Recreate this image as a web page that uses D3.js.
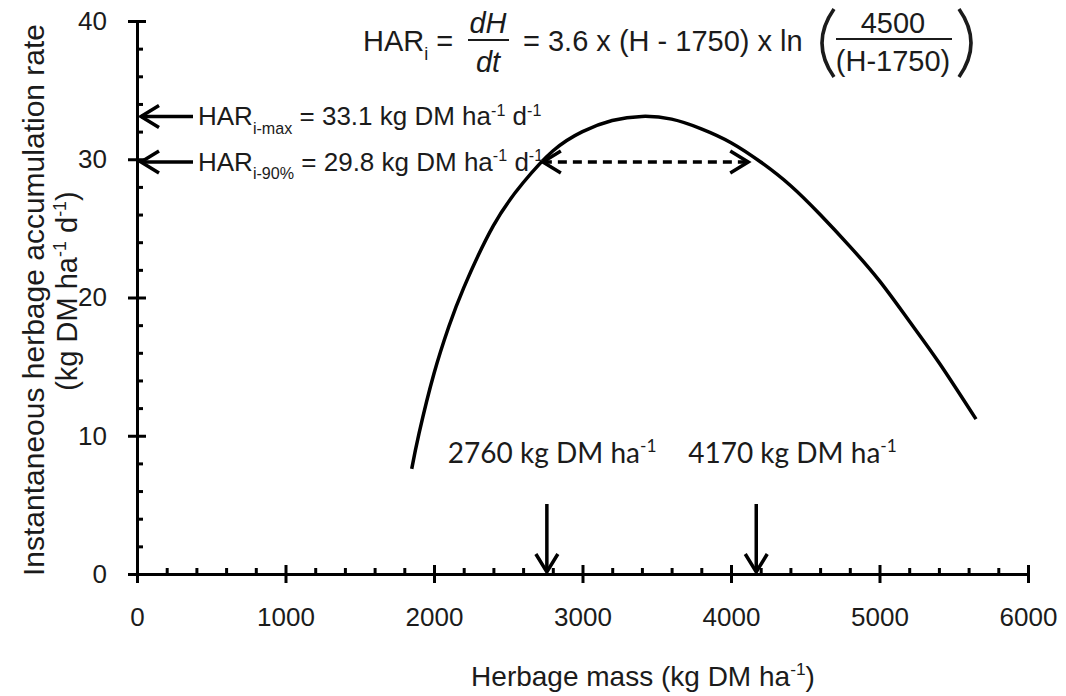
<!DOCTYPE html>
<html>
<head>
<meta charset="utf-8">
<script src="https://cdn.jsdelivr.net/npm/d3@7"></script>
<style>
  body { margin: 0; background: #fff; }
  text { font-family: "Liberation Sans", Arial, sans-serif; fill: #1b1b1b; }
  text.calibri { font-family: Lato, "Open Sans", sans-serif; }
</style>
</head>
<body>
<script>
  // curve
  var herbageMass = [1850, 1900, 2000, 2100, 2200, 2400, 2600, 2800, 3000, 3200, 3400,
                     3600, 3800, 4000, 4200, 4400, 4600, 4800, 5000, 5200, 5400, 5650];
  var accumRate   = [7.6, 10.2, 14.5, 17.9, 20.7, 25.2, 28.3, 30.6, 32.0, 32.8, 33.1,
                     32.9, 32.2, 31.2, 29.8, 28.1, 26.0, 23.7, 21.2, 18.3, 15.3, 11.2];
  var xTicks = [0, 1000, 2000, 3000, 4000, 5000, 6000];
  var yTicks = [0, 10, 20, 30, 40];
  var harMax = 33.1, har90 = 29.8;
  var massLow = 2760, massHigh = 4170;

  var width = 1066, height = 696;
  var margin = {top: 21, right: 38, bottom: 122, left: 137};

  var x = d3.scaleLinear().domain([0, 6000]).range([margin.left, width - margin.right]);
  var y = d3.scaleLinear().domain([0, 40]).range([height - margin.bottom, margin.top]);

  var svg = d3.select("body").append("svg")
      .attr("width", width)
      .attr("height", height);

  // text with sub/superscripts: parts = [[str, "n" | "sub" | "sup" | "i"]]
  function rich(sel, px, py, parts, size, anchor) {
    var t = sel.append("text")
        .attr("x", px).attr("y", py)
        .attr("font-size", size)
        .attr("text-anchor", anchor || "start");
    var shift = 0;
    parts.forEach(function(p) {
      var target = p[1] == "sub" ? size * 0.32 : p[1] == "sup" ? -size * 0.38 : 0;
      var s = t.append("tspan")
          .attr("dy", target - shift)
          .text(p[0]);
      if (p[1] == "sub" || p[1] == "sup") s.attr("font-size", size * 0.62);
      if (p[1] == "i") s.attr("font-style", "italic");
      shift = target;
    });
    return t;
  }

  // axis-x
  var gx = svg.append("g")
      .attr("transform", "translate(0," + y(0) + ")")
      .call(d3.axisBottom(x).tickValues(xTicks).tickFormat(d3.format("d")).tickSizeOuter(0).tickSize(9));
  gx.selectAll(".tick line").attr("y1", -9).attr("y2", 9);
  gx.selectAll(".tick text").attr("y", 34).attr("font-size", 26);

  svg.append("g")
      .attr("transform", "translate(0," + y(0) + ")")
      .call(d3.axisBottom(x)
        .tickValues(d3.range(200, 6000, 200).filter(function(d) { return d % 1000; }))
        .tickSize(-6).tickFormat(""))
      .call(function(g) { g.select(".domain").remove(); });

  // axis-y
  var gy = svg.append("g")
      .attr("transform", "translate(" + x(0) + ",0)")
      .call(d3.axisLeft(y).tickValues(yTicks).tickSizeOuter(0).tickSize(9));
  gy.selectAll(".tick line").attr("x1", -9).attr("x2", 9);
  gy.selectAll(".tick text").attr("x", -30).attr("font-size", 26);

  svg.append("g")
      .attr("transform", "translate(" + x(0) + ",0)")
      .call(d3.axisLeft(y)
        .tickValues(d3.range(2, 40, 2).filter(function(d) { return d % 10; }))
        .tickSize(-6).tickFormat(""))
      .call(function(g) { g.select(".domain").remove(); });

  svg.selectAll(".domain, .tick line")
      .attr("stroke", "#000")
      .attr("stroke-width", 3);
  svg.selectAll(".tick text").attr("font-family", null).attr("fill", null);

  // curve
  var line = d3.line()
      .x(function(d, i) { return x(herbageMass[i]); })
      .y(function(d) { return y(d); })
      .curve(d3.curveNatural);

  svg.append("path")
      .attr("d", line(accumRate))
      .attr("fill", "none")
      .attr("stroke", "#000")
      .attr("stroke-width", 3.5);

  // arrows
  var ann = svg.append("g")
      .attr("fill", "none")
      .attr("stroke", "#000")
      .attr("stroke-width", 3.5);

  function head(px, py, dx, dy) {
    // open chevron pointing to (px, py), coming from direction (dx, dy)
    var nx = -dy, ny = dx;
    return "M" + (px + dx * 18 + nx * 11) + "," + (py + dy * 18 + ny * 11) +
           "L" + px + "," + py +
           "L" + (px + dx * 18 - nx * 11) + "," + (py + dy * 18 - ny * 11);
  }

  [harMax, har90].forEach(function(v) {
    var tip = x(0) + 4;
    ann.append("path").attr("d", "M" + tip + "," + y(v) + "H" + (tip + 52));
    ann.append("path").attr("d", head(tip, y(v), 1, 0));
  });

  [massLow, massHigh].forEach(function(m) {
    ann.append("path").attr("d", "M" + x(m) + "," + (y(0) - 70) + "V" + (y(0) - 2));
    ann.append("path").attr("d", head(x(m), y(0) - 2, 0, -1));
  });

  ann.append("path")
      .attr("d", "M" + (x(massLow) - 4) + "," + y(har90) + "H" + (x(massHigh) - 8))
      .attr("stroke-dasharray", "9,6");
  ann.append("path").attr("d", head(x(massLow) - 4, y(har90), 1, 0));
  ann.append("path").attr("d", head(x(massHigh) - 8, y(har90), -1, 0));

  // annotation texts
  rich(svg, 198, y(harMax) + 9,
    [["HAR", "n"], ["i-max", "sub"], [" = " + harMax + " kg DM ha", "n"], ["-1", "sup"], [" d", "n"], ["-1", "sup"]], 26);
  rich(svg, 198, y(har90) + 9,
    [["HAR", "n"], ["i-90%", "sub"], [" = " + har90 + " kg DM ha", "n"], ["-1", "sup"], [" d", "n"], ["-1", "sup"]], 26);

  rich(svg, x(massLow) - 99, 463,
    [[massLow + " kg DM ha", "n"], ["-1", "sup"]], 28).attr("class", "calibri");
  rich(svg, x(massHigh) - 68, 463,
    [[massHigh + " kg DM ha", "n"], ["-1", "sup"]], 28).attr("class", "calibri");

  // equation
  var eq = svg.append("g");
  rich(eq, 363, 51, [["HAR", "n"], ["i", "sub"], [" =", "n"]], 29);
  eq.append("text").attr("x", 488).attr("y", 33).attr("font-size", 29)
      .attr("font-style", "italic").attr("text-anchor", "middle").text("dH");
  eq.append("text").attr("x", 488).attr("y", 72).attr("font-size", 29)
      .attr("font-style", "italic").attr("text-anchor", "middle").text("dt");
  eq.append("text").attr("x", 523).attr("y", 51).attr("font-size", 29)
      .text("= 3.6 x (H - 1750) x ln");
  eq.append("text").attr("x", 893).attr("y", 33).attr("font-size", 29)
      .attr("text-anchor", "middle").text("4500");
  eq.append("text").attr("x", 893).attr("y", 71).attr("font-size", 29)
      .attr("text-anchor", "middle").text("(H-1750)");
  eq.append("path").attr("d", "M468,40H509M836,39H952")
      .attr("stroke", "#1b1b1b").attr("stroke-width", 2);
  eq.append("path")
      .attr("d", "M834,9Q810,43 834,77M959,9Q983,43 959,77")
      .attr("fill", "none").attr("stroke", "#1b1b1b").attr("stroke-width", 3.6);

  // axis titles
  rich(svg, 643, 686, [["Herbage mass (kg DM ha", "n"], ["-1", "sup"], [")", "n"]], 28, "middle");

  svg.append("text")
      .attr("transform", "translate(44,300) rotate(-90)")
      .attr("font-size", 30)
      .attr("text-anchor", "middle")
      .text("Instantaneous herbage accumulation rate");
  rich(svg, 0, 0, [["(kg DM ha", "n"], ["-1", "sup"], [" d", "n"], ["-1", "sup"], [")", "n"]], 29, "middle")
      .attr("transform", "translate(77,291) rotate(-90)");
</script>
</body>
</html>
